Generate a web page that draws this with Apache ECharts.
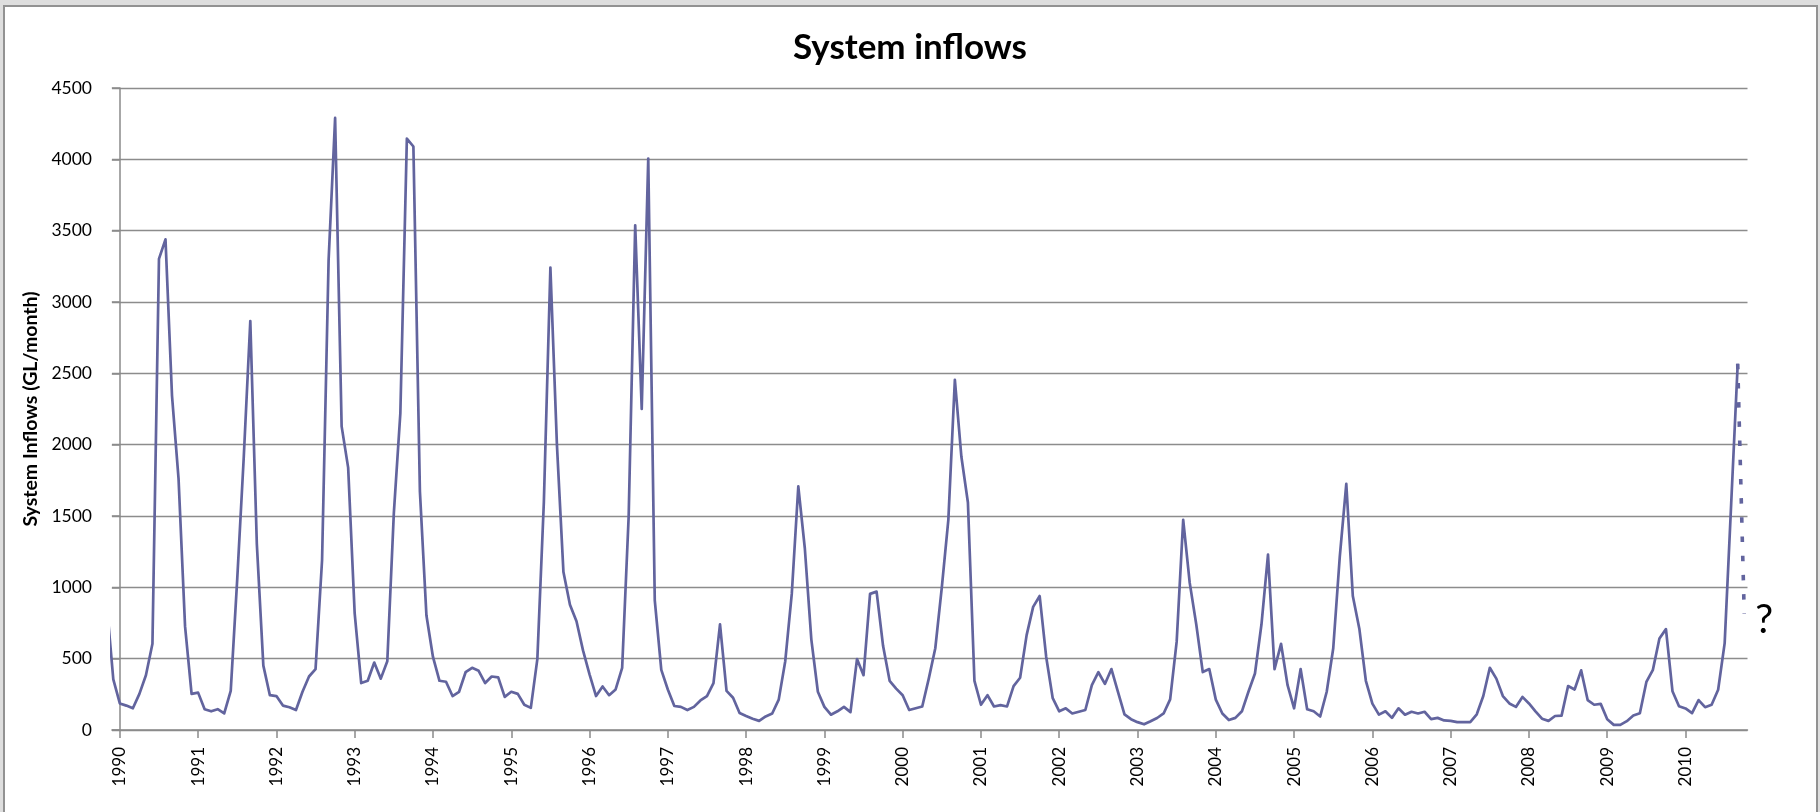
<!DOCTYPE html>
<html>
<head>
<meta charset="utf-8">
<title>System inflows</title>
<script src="https://cdn.jsdelivr.net/npm/echarts@6/dist/echarts.min.js"></script>
<style>
  html, body { margin: 0; padding: 0; width: 1820px; height: 812px; overflow: hidden; background: #dedede; }
  #frame { position: absolute; left: 3px; top: 5px; width: 1811px; height: 830px; background: #fff; border: 2px solid #929292; }
  #chart { position: absolute; left: 0; top: 0; width: 1820px; height: 812px; }
</style>
</head>
<body>
<div id="frame"></div>
<div id="chart"></div>
<script>
// Monthly system inflows (GL/month), first value is November 1989
const firstYear = 1989;
const firstMonth = 11;
const monthlyInflows = [
  880, 355,
  186, 171, 152, 253, 384, 604, 3302, 3439, 2342, 1762, 726, 253,     // 1990
  262, 146, 131, 146, 116, 274, 1061, 1915, 2866, 1305, 451, 244,     // 1991
  238, 171, 159, 140, 268, 375, 427, 1190, 3290, 4290, 2128, 1839,    // 1992
  817, 329, 345, 473, 360, 482, 1518, 2220, 4145, 4090, 1671, 802,    // 1993
  512, 345, 338, 238, 268, 405, 436, 415, 329, 375, 369, 232,         // 1994
  268, 253, 177, 155, 497, 1600, 3241, 2000, 1107, 878, 762, 558,     // 1995
  390, 238, 305, 244, 284, 436, 1500, 3537, 2250, 4005, 909, 421,     // 1996
  284, 168, 162, 140, 162, 207, 238, 329, 741, 274, 226, 119,         // 1997
  98, 79, 64, 95, 116, 213, 482, 954, 1707, 1274, 634, 268,           // 1998
  162, 107, 131, 162, 125, 497, 384, 954, 970, 588, 345, 290,         // 1999
  244, 140, 152, 165, 360, 573, 1000, 1473, 2455, 1915, 1595, 345,    // 2000
  177, 244, 165, 174, 165, 308, 366, 665, 863, 939, 512, 223,         // 2001
  131, 152, 116, 128, 140, 314, 405, 323, 427, 268, 110, 76,          // 2002
  55, 40, 61, 84, 116, 215, 619, 1473, 1031, 741, 406, 427,           // 2003
  213, 116, 70, 85, 131, 268, 396, 741, 1229, 427, 604, 314,          // 2004
  152, 427, 146, 131, 95, 268, 573, 1214, 1726, 939, 710, 345,        // 2005
  185, 108, 131, 85, 152, 107, 128, 116, 128, 76, 85, 67,             // 2006
  64, 55, 55, 55, 110, 238, 436, 360, 238, 186, 162, 232,             // 2007
  186, 131, 79, 64, 98, 101, 308, 284, 418, 210, 177, 183,            // 2008
  75, 36, 36, 62, 101, 118, 337, 422, 642, 707, 272, 167,             // 2009
  151, 118, 210, 160, 177, 282, 609, 1588, 2567                       // 2010
];
// Uncertain next month after the last observation
const outlookValue = 815;
const outlookLabel = '?';

const yearLabels = ['1990','1991','1992','1993','1994','1995','1996','1997','1998','1999','2000',
                    '2001','2002','2003','2004','2005','2006','2007','2008','2009','2010'];
const yTicks = [0, 500, 1000, 1500, 2000, 2500, 3000, 3500, 4000, 4500];

// x is measured in months from January 1990
const baseYear = Number(yearLabels[0]);
const offset = (firstYear - baseYear) * 12 + (firstMonth - 1);
const inflowPoints = monthlyInflows.map((v, i) => [offset + i, v]);
const lastX = offset + monthlyInflows.length - 1;
const outlookPoints = [[lastX, monthlyInflows[monthlyInflows.length - 1]], [lastX + 1, outlookValue]];
const yearTickValues = yearLabels.map((_, i) => i * 12);

const font = 'Lato, "Open Sans", "DejaVu Sans", sans-serif';
const lineColor = '#62649e';
const axisGray = '#8a8a8a';

const chart = echarts.init(document.getElementById('chart'), null, { renderer: 'canvas' });
chart.setOption({
  backgroundColor: 'transparent',
  animation: false,
  title: {
    text: 'System inflows',
    left: 'center',
    top: 25,
    textStyle: { fontFamily: font, fontWeight: 'bold', fontSize: 35, color: '#000' }
  },
  grid: { left: 112, right: 72.5, top: 88, bottom: 82, outerBoundsMode: 'none' },
  xAxis: {
    type: 'value',
    min: -1.2,
    max: 249.5,
    splitLine: { show: false },
    axisLine: { show: true, onZero: false, lineStyle: { color: axisGray, width: 1.5 } },
    axisTick: { show: true, customValues: yearTickValues, length: 8, lineStyle: { color: axisGray, width: 1.5 } },
    axisLabel: {
      customValues: yearTickValues,
      formatter: v => yearLabels[Math.round(v / 12)],
      rotate: 90,
      margin: 17,
      fontFamily: font,
      fontSize: 17,
      color: '#000'
    }
  },
  yAxis: {
    type: 'value',
    min: yTicks[0],
    max: yTicks[yTicks.length - 1],
    interval: yTicks[1] - yTicks[0],
    name: 'System Inflows (GL/month)',
    nameLocation: 'middle',
    nameGap: 60,
    nameRotate: 90,
    nameTextStyle: { fontFamily: font, fontWeight: 'bold', fontSize: 19.5, color: '#000' },
    axisLine: { show: true, onZero: true, lineStyle: { color: axisGray, width: 1.5 } },
    axisTick: { show: true, length: 8, lineStyle: { color: axisGray, width: 1.5 } },
    axisLabel: { margin: 20, fontFamily: font, fontSize: 17.5, color: '#000', formatter: v => String(v) },
    splitLine: { show: true, lineStyle: { color: '#8c8c8c', width: 1.3 } }
  },
  series: [
    {
      name: 'System inflows',
      type: 'line',
      data: inflowPoints,
      showSymbol: false,
      clip: true,
      lineStyle: { color: lineColor, width: 2.7, join: 'round' },
      itemStyle: { color: lineColor },
      z: 3
    },
    {
      name: 'Outlook',
      type: 'line',
      data: outlookPoints,
      showSymbol: false,
      clip: false,
      lineStyle: { color: lineColor, width: 3.6, type: [5.5, 13.7], cap: 'butt' },
      itemStyle: { color: lineColor },
      endLabel: {
        show: true,
        formatter: outlookLabel,
        distance: 11,
        offset: [0, 6],
        fontFamily: font,
        fontSize: 40,
        color: '#000'
      },
      z: 2
    }
  ]
});
</script>
</body>
</html>
